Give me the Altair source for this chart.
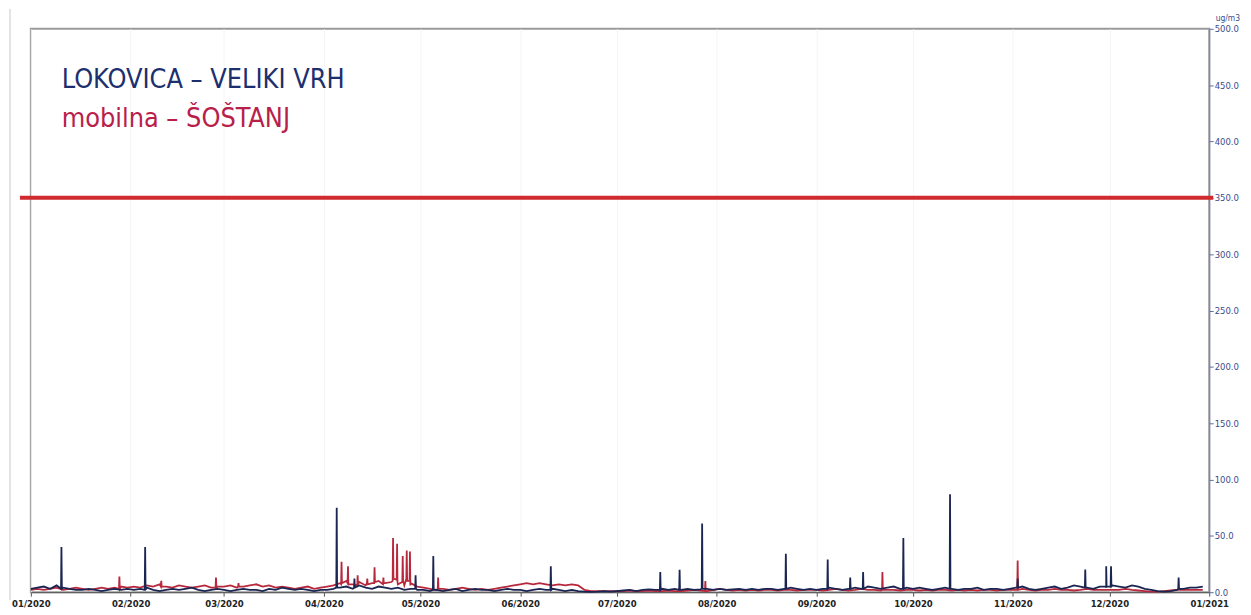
import altair as alt
import pandas as pd

# ---------------- data ----------------
# baseline values every 2 days starting 2020-01-01 (ug/m3)
navy_base = [
    3, 4, 5, 3, 6, 4, 3, 2, 2, 3, 2, 1, 2, 3, 2, 3,          # Jan
    2, 3, 4, 2, 1, 2, 3, 2, 3, 4, 2, 1, 2, 3,                # Feb
    2, 1, 2, 3, 2, 2, 1, 3, 2, 4, 3, 2, 3, 2, 1, 2,          # Mar
    2, 3, 4, 5, 3, 6, 4, 3, 5, 4, 3, 4, 2, 3, 2,             # Apr
    2, 1, 2, 1, 2, 3, 1, 2, 3, 2, 2, 1, 2, 3, 2,             # May
    2, 1, 2, 3, 2, 3, 2, 1, 2, 1, 0.5, 0.3, 0.5, 1, 0.5,     # Jun
    1, 1.5, 2, 1, 2, 2.5, 2, 3, 2, 3, 2, 3, 2, 2.5, 3, 2,    # Jul
    3, 2, 2.5, 3, 2, 3, 2, 3, 3, 2, 3, 4, 3, 2, 3,           # Aug
    2, 3, 4, 3, 2, 3, 4, 3, 5, 4, 3, 4, 5, 3, 4,             # Sep
    3, 4, 3, 2, 3, 4, 3, 2, 3, 3, 4, 2, 3, 3, 2, 3,          # Oct
    4, 5, 3, 2, 3, 4, 5, 3, 4, 6, 5, 4, 3, 5, 4,             # Nov
    6, 5, 4, 6, 5, 3, 2, 1, 0.5, 1, 2, 3, 4, 4, 5,           # Dec
]
red_base = [
    2, 3, 2, 3, 4, 2, 3, 4, 3, 2, 3, 4, 3, 4, 5, 4,          # Jan
    5, 4, 6, 5, 7, 5, 4, 6, 5, 4, 5, 6, 4, 5,                # Feb
    5, 6, 4, 5, 6, 7, 5, 6, 4, 5, 4, 3, 4, 5, 3, 4,          # Mar
    5, 6, 8, 10, 7, 9, 6, 8, 10, 8, 9, 7, 6, 8, 5,           # Apr
    4, 3, 2, 3, 2, 3, 4, 3, 2, 3, 2, 3, 4, 5, 6,             # May
    7, 8, 7, 8, 7, 6, 7, 6, 7, 6, 2, 1, 1, 1, 1,             # Jun
    1, 1, 1.5, 1, 1, 1.5, 1, 1, 1.5, 1, 1, 1.5, 2, 1.5, 1, 2,  # Jul
    3, 2, 1.5, 2, 1.5, 2, 1.5, 2, 2, 1.5, 2, 2, 1.5, 2, 2,   # Aug
    2, 1.5, 2, 3, 2, 1.5, 2, 3, 2, 2, 1.5, 2, 2, 1.5, 2,     # Sep
    2, 1.5, 2, 1.5, 2, 2, 1.5, 2, 1.5, 2, 1.5, 2, 2, 1.5, 2, 2,  # Oct
    2, 3, 2, 1.5, 2, 2, 3, 2, 2, 1.5, 2, 3, 2, 2, 2,         # Nov
    2, 2, 3, 2, 1.5, 1, 0.5, 0.5, 1, 1.5, 2, 2, 2, 2, 2,     # Dec
]

# short peaks (with their shoulders)
navy_spike_times = [
    "2020-01-10T09:00", "2020-01-10T12:00", "2020-01-10T15:00",
    "2020-02-05T09:00", "2020-02-05T12:00", "2020-02-05T15:00",
    "2020-04-04T21:00", "2020-04-05T00:00", "2020-04-05T03:00",
    "2020-04-10T09:00", "2020-04-10T12:00", "2020-04-10T15:00",
    "2020-04-29T09:00", "2020-04-29T12:00", "2020-04-29T15:00",
    "2020-05-04T21:00", "2020-05-05T00:00", "2020-05-05T03:00",
    "2020-06-10T09:00", "2020-06-10T12:00", "2020-06-10T15:00",
    "2020-07-14T09:00", "2020-07-14T12:00", "2020-07-14T15:00",
    "2020-07-20T09:00", "2020-07-20T12:00", "2020-07-20T15:00",
    "2020-07-27T09:00", "2020-07-27T12:00", "2020-07-27T15:00",
    "2020-08-22T09:00", "2020-08-22T12:00", "2020-08-22T15:00",
    "2020-09-04T09:00", "2020-09-04T12:00", "2020-09-04T15:00",
    "2020-09-11T09:00", "2020-09-11T12:00", "2020-09-11T15:00",
    "2020-09-15T09:00", "2020-09-15T12:00", "2020-09-15T15:00",
    "2020-09-27T21:00", "2020-09-28T00:00", "2020-09-28T03:00",
    "2020-10-12T09:00", "2020-10-12T12:00", "2020-10-12T15:00",
    "2020-11-02T09:00", "2020-11-02T12:00", "2020-11-02T15:00",
    "2020-11-23T09:00", "2020-11-23T12:00", "2020-11-23T15:00",
    "2020-11-29T21:00", "2020-11-30T00:00", "2020-11-30T03:00",
    "2020-12-01T09:00", "2020-12-01T12:00", "2020-12-01T15:00",
    "2020-12-22T09:00", "2020-12-22T12:00", "2020-12-22T15:00",
]
navy_spike_values = [
    3, 40, 3,
    2, 40, 2,
    4, 75, 4,
    4, 12, 4,
    3, 15, 3,
    2, 32, 2,
    2, 23, 2,
    2, 18, 2,
    2, 20, 2,
    3, 61, 3,
    3, 34, 3,
    3, 29, 3,
    3, 13, 3,
    3, 18, 3,
    3, 48, 3,
    3, 87, 3,
    4, 12, 4,
    4, 20, 4,
    5, 23, 5,
    5, 23, 5,
    3, 13, 3,
]
red_spike_times = [
    "2020-01-28T09:00", "2020-01-28T12:00", "2020-01-28T15:00",
    "2020-02-10T09:00", "2020-02-10T12:00", "2020-02-10T15:00",
    "2020-02-27T09:00", "2020-02-27T12:00", "2020-02-27T15:00",
    "2020-03-05T09:00", "2020-03-05T12:00", "2020-03-05T15:00",
    "2020-04-06T09:00", "2020-04-06T12:00", "2020-04-06T15:00",
    "2020-04-08T09:00", "2020-04-08T12:00", "2020-04-08T15:00",
    "2020-04-11T09:00", "2020-04-11T12:00", "2020-04-11T15:00",
    "2020-04-14T09:00", "2020-04-14T12:00", "2020-04-14T15:00",
    "2020-04-16T15:00", "2020-04-16T18:00", "2020-04-16T21:00",
    "2020-04-19T09:00", "2020-04-19T12:00", "2020-04-19T15:00",
    "2020-04-22T09:00", "2020-04-22T12:00", "2020-04-22T15:00",
    "2020-04-23T15:00", "2020-04-23T18:00", "2020-04-23T21:00",
    "2020-04-25T09:00", "2020-04-25T12:00", "2020-04-25T15:00",
    "2020-04-26T15:00", "2020-04-26T18:00", "2020-04-26T21:00",
    "2020-04-27T15:00", "2020-04-27T18:00", "2020-04-27T21:00",
    "2020-05-06T09:00", "2020-05-06T12:00", "2020-05-06T15:00",
    "2020-07-28T09:00", "2020-07-28T12:00", "2020-07-28T15:00",
    "2020-09-21T09:00", "2020-09-21T12:00", "2020-09-21T15:00",
    "2020-11-02T09:00", "2020-11-02T12:00", "2020-11-02T15:00",
]
red_spike_values = [
    3, 14, 3,
    5, 10, 5,
    4, 13, 4,
    5, 8, 5,
    7, 27, 8,
    8, 23, 7,
    6, 15, 7,
    8, 12, 7,
    8, 22, 9,
    7, 13, 8,
    10, 48, 12,
    11, 43, 9,
    9, 32, 10,
    12, 37, 10,
    10, 36, 6,
    3, 13, 3,
    1, 10, 1,
    2, 18, 2,
    2, 28, 2,
]

y_ticks = [0, 50, 100, 150, 200, 250, 300, 350, 400, 450, 500]
limit_value = 350
label_navy = "LOKOVICA – VELIKI VRH"
label_red = "mobilna – ŠOŠTANJ"
unit = "ug/m3"

# ---------------- build tables ----------------
base_dates = pd.date_range("2020-01-01", periods=len(navy_base), freq="2D")


def series(base, times, values, name):
    df = pd.concat([
        pd.DataFrame({"t": base_dates, "v": base}),
        pd.DataFrame({"t": pd.to_datetime(times), "v": values}),
    ]).sort_values("t")
    df["s"] = name
    df["t"] = df["t"].dt.strftime("%Y-%m-%dT%H:%M:%S")
    return df


navy_df = series(navy_base, navy_spike_times, navy_spike_values, label_navy)
red_df = series(red_base, red_spike_times, red_spike_values, label_red)

month_vals = [alt.DateTime(year=2020, month=m, date=1) for m in range(1, 13)] + [
    alt.DateTime(year=2021, month=1, date=1)
]

x_enc = alt.X(
    "t:T",
    scale=alt.Scale(domain=[alt.DateTime(year=2020, month=1, date=1),
                            alt.DateTime(year=2021, month=1, date=1)]),
    axis=alt.Axis(
        values=month_vals, format="%m/%Y", title=None,
        labelFont="DejaVu Sans Condensed", labelFontWeight="bold",
        labelFontSize=9.5, labelColor="#222222", labelPadding=2,
        tickSize=4, tickColor="#555555", domainColor="#555555",
        grid=True, gridColor="#f5f5f5", labelFlush=False,
    ),
)
y_enc = alt.Y(
    "v:Q",
    scale=alt.Scale(domain=[0, 500]),
    axis=alt.Axis(
        orient="right", values=y_ticks, format=".1f", title=unit,
        titleAngle=0, titleAlign="left", titleBaseline="bottom",
        titleX=6, titleY=-6, titleFontSize=8.5, titleFontWeight="normal",
        titleColor="#3a4a8a", titleFont="DejaVu Sans Condensed",
        labelFont="DejaVu Sans Condensed", labelFontSize=9.5,
        labelColor="#3a4a8a", labelPadding=1, tickSize=4,
        tickColor="#5a70a8", domainColor="#5a70a8", grid=False,
    ),
)

red_line = alt.Chart(red_df).mark_line(strokeWidth=1.8, color="#b8283c").encode(x=x_enc, y=y_enc)
navy_line = alt.Chart(navy_df).mark_line(strokeWidth=1.8, color="#1b2552").encode(x="t:T", y="v:Q")

limit = alt.Chart(pd.DataFrame({"v": [limit_value]})).mark_rule(
    color="#cf2a2e", strokeWidth=4
).encode(y="v:Q", x=alt.value(-11), x2=alt.value(1190))

edge = alt.Chart(pd.DataFrame({"v": [0]})).mark_rule(color="#c8c8c8", strokeWidth=1).encode(
    x=alt.value(-21), y=alt.value(-20), y2=alt.value(575)
)

txt_navy = alt.Chart(pd.DataFrame({"s": [label_navy]})).mark_text(
    align="left", baseline="alphabetic", font="DejaVu Sans Condensed, sans-serif",
    fontSize=27, color="#1c2f6e"
).encode(text="s:N", x=alt.value(31), y=alt.value(60))

txt_red = alt.Chart(pd.DataFrame({"s": [label_red]})).mark_text(
    align="left", baseline="alphabetic", font="DejaVu Sans Condensed, sans-serif",
    fontSize=27, color="#b8204a"
).encode(text="s:N", x=alt.value(31), y=alt.value(99))

chart = alt.layer(red_line, navy_line, limit, edge, txt_navy, txt_red).properties(
    width=1186, height=567,
    padding={"left": 23, "top": 19, "right": 34, "bottom": 20},
    autosize=alt.AutoSizeParams(type="none"),
).configure_view(stroke="#9a9a9a", strokeWidth=2)

chart.save("out.html", embed_options={"renderer": "svg", "actions": False})
